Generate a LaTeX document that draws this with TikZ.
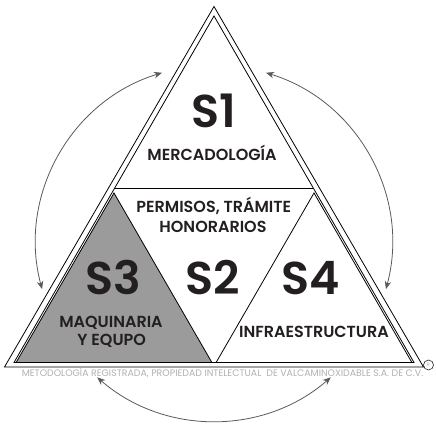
\documentclass[tikz,border=0pt]{standalone}
\usepackage{fontspec}
\setmainfont{Poppins}[BoldFont={Poppins SemiBold}]
\usetikzlibrary{arrows.meta,positioning}
\definecolor{tinta}{HTML}{231F20}
\definecolor{relleno}{HTML}{9B9B9B}
\definecolor{flecha}{HTML}{5A5A5A}
\definecolor{pie}{HTML}{B0B0B0}
\tikzset{
  linea/.style={line width=0.8pt, draw=black, line join=miter},
  ciclo/.style={line width=0.8pt, draw=flecha, {Stealth[length=8pt,width=6.5pt]}-{Stealth[length=8pt,width=6.5pt]}},
  grande/.style={font=\fontsize{46}{46}\selectfont\bfseries, text=tinta, inner sep=0pt, anchor=base},
  rotulo/.style={font=\fontsize{16}{18}\selectfont\bfseries, text=tinta, inner sep=0pt, anchor=base},
}

\begin{document}
\begin{tikzpicture}[x=1pt,y=1pt]
\useasboundingbox (0,0) rectangle (436,431);
{
% Marking corners of the triangles
\coordinate (ext a) at (214,424.5);
\coordinate (ext b) at (4.5,64);
\coordinate (ext c) at (423.5,64);
\coordinate (int a) at (214,415);
\coordinate (int b) at (14,68.5);
\coordinate (int c) at (414,68.5);
\coordinate (centro) at (214,188);

% Drawing outer triangle
\draw [linea] (ext a) -- (ext b) -- (ext c) -- cycle;%

% Drawing inner triangle
\draw [linea] (int a) -- (int b) -- (int c) -- cycle;%

% Drawing segment under S1
\draw [linea] (114.7,243) -- (313.3,243);%

% Drawing triangle S3
\draw [linea, fill=relleno] (114,238) -- (16.1,68.5) -- (211.9,68.5) -- cycle;%

% Drawing triangle S4
\draw [linea, fill=white] (314,238) -- (216.1,68.5) -- (411.9,68.5) -- cycle;%

% Drawing arrows round the triangle
\draw [ciclo] ([shift={(107:178)}]centro) arc [start angle=107, end angle=195, radius=178];%
\draw [ciclo] ([shift={(73:178)}]centro) arc [start angle=73, end angle=-15, radius=178];%
\draw [ciclo] ([shift={(229:178)}]centro) arc [start angle=229, end angle=311, radius=178];%

% Marking point {S1}
\node [grande] (s uno) at (214,303) {S1};%
\node [rotulo] (mercado) at (212,270) {MERCADOLOGÍA};%

% Marking point {S2}
\node [rotulo] (permisos) at (213.8,218) {PERMISOS, TRÁMITE};%
\node [rotulo] (honorarios) at (213,198.7) {HONORARIOS};%
\node [grande] (s dos) at (212.5,136) {S2};%

% Marking point {S3}
\node [grande] (s tres) at (113,136) {S3};%
\node [rotulo] (maquinaria) at (111,103.7) {MAQUINARIA};%
\node [rotulo] (equipo) at (111.7,85.3) {Y EQUPO};%

% Marking point {S4}
\node [grande] (s cuatro) at (311,136) {S4};%
\node [rotulo] (infra) at (314,93.7) {INFRAESTRUCTURA};%

% Marking footer
\node [font=\fontsize{9.4}{10}\selectfont, text=pie, inner sep=0pt, anchor=base] (registro) at (222.5,54.3) {METODOLOGÍA REGISTRADA, PROPIEDAD INTELECTUAL\ \ DE VALCAMINOXIDABLE S.A. DE C.V.};%
\node [circle, draw=tinta, line width=0.6pt, minimum size=10pt, inner sep=0pt, font=\fontsize{5}{5}\selectfont, text=pie] (marca) at (428.5,66) {R};%
}
\end{tikzpicture}
\end{document}
